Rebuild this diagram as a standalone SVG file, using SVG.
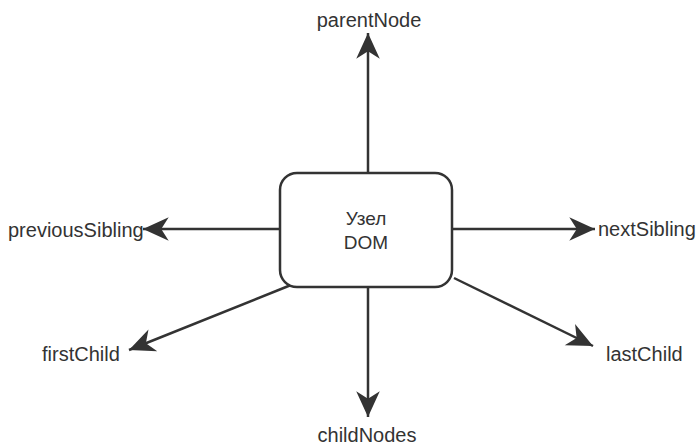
<svg xmlns="http://www.w3.org/2000/svg" width="697" height="446" viewBox="0 0 697 446">
<style>
.lbl{font-family:"Liberation Sans",Arial,sans-serif;font-size:20px;fill:#333}
.in{font-size:19px}
.edge{stroke:#333;stroke-width:2.5;fill:none}
.box{fill:#fff;stroke:#333;stroke-width:2.5}
</style>
<defs>
<marker id="arr" markerUnits="userSpaceOnUse" markerWidth="30" markerHeight="30" viewBox="-26 -13 28 26" refX="0" refY="0" orient="auto">
<path d="M0,0 L-24,-11 L-17,0 L-24,11 Z" fill="#333"/>
</marker>
</defs>
<rect width="697" height="446" fill="#fff"/>
<g id="connectors">
<line class="edge" x1="368" y1="173" x2="368" y2="33" marker-end="url(#arr)"/>
<line class="edge" x1="368" y1="287" x2="368" y2="417" marker-end="url(#arr)"/>
<line class="edge" x1="280" y1="229" x2="143" y2="229" marker-end="url(#arr)"/>
<line class="edge" x1="452" y1="229" x2="595" y2="229" marker-end="url(#arr)"/>
<line class="edge" x1="291" y1="285" x2="129" y2="350" marker-end="url(#arr)"/>
<line class="edge" x1="454" y1="278" x2="593" y2="346" marker-end="url(#arr)"/>
</g>
<g id="node-dom">
<rect class="box" x="280" y="173" width="172" height="114" rx="17" ry="17"/>
<text class="lbl in" x="366" y="225" text-anchor="middle">Узел</text>
<text class="lbl in" x="366" y="249" text-anchor="middle">DOM</text>
</g>
<g id="node-parentNode"><text class="lbl" x="369" y="27" text-anchor="middle">parentNode</text></g>
<g id="node-childNodes"><text class="lbl" x="367" y="442" text-anchor="middle">childNodes</text></g>
<g id="node-previousSibling"><text class="lbl" x="8" y="237">previousSibling</text></g>
<g id="node-nextSibling"><text class="lbl" x="598" y="236">nextSibling</text></g>
<g id="node-firstChild"><text class="lbl" x="42" y="361">firstChild</text></g>
<g id="node-lastChild"><text class="lbl" x="606" y="361">lastChild</text></g>
</svg>
